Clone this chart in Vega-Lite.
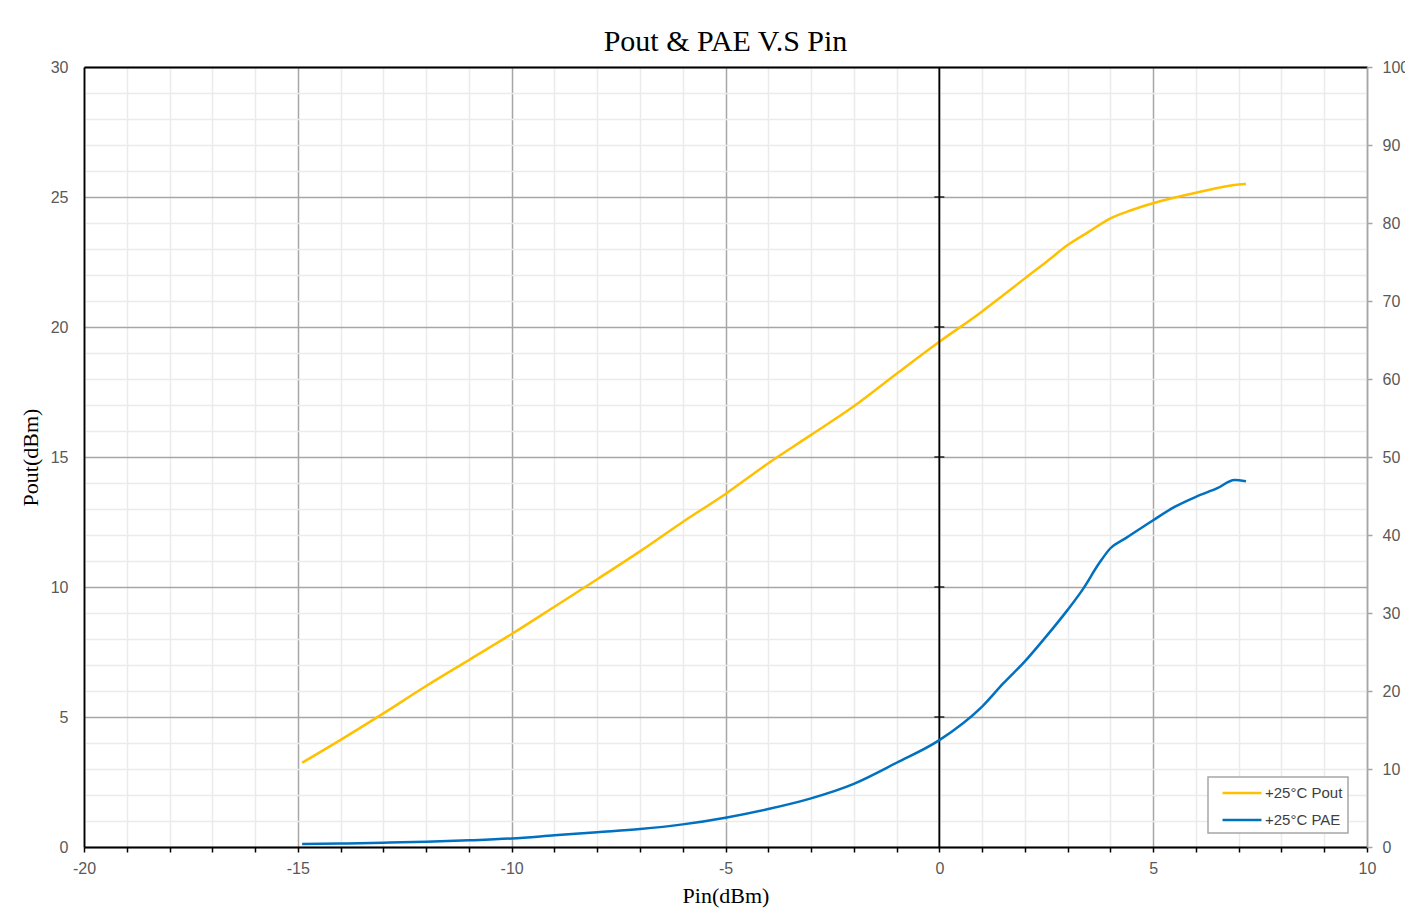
{
  "$schema": "https://vega.github.io/schema/vega-lite/v6.json",
  "width": 1283,
  "height": 780,
  "autosize": {"type": "none"},
  "padding": {"left": 84, "top": 67, "right": 38, "bottom": 66},
  "background": "white",
  "title": {
    "text": "Pout & PAE V.S Pin",
    "font": "Liberation Serif",
    "fontSize": 30,
    "fontWeight": "normal",
    "color": "#000000",
    "anchor": "middle",
    "offset": 2
  },
  "data": {
    "values": [
      {"Pin": -14.9, "value": 3.24, "series": "+25°C Pout"},
      {"Pin": -14, "value": 4.12, "series": "+25°C Pout"},
      {"Pin": -13, "value": 5.14, "series": "+25°C Pout"},
      {"Pin": -12, "value": 6.19, "series": "+25°C Pout"},
      {"Pin": -11, "value": 7.19, "series": "+25°C Pout"},
      {"Pin": -10, "value": 8.19, "series": "+25°C Pout"},
      {"Pin": -9, "value": 9.24, "series": "+25°C Pout"},
      {"Pin": -8, "value": 10.3, "series": "+25°C Pout"},
      {"Pin": -7, "value": 11.37, "series": "+25°C Pout"},
      {"Pin": -6, "value": 12.5, "series": "+25°C Pout"},
      {"Pin": -5, "value": 13.58, "series": "+25°C Pout"},
      {"Pin": -4, "value": 14.76, "series": "+25°C Pout"},
      {"Pin": -3, "value": 15.85, "series": "+25°C Pout"},
      {"Pin": -2, "value": 16.95, "series": "+25°C Pout"},
      {"Pin": -1, "value": 18.2, "series": "+25°C Pout"},
      {"Pin": 0, "value": 19.43, "series": "+25°C Pout"},
      {"Pin": 1, "value": 20.6, "series": "+25°C Pout"},
      {"Pin": 1.5, "value": 21.23, "series": "+25°C Pout"},
      {"Pin": 2, "value": 21.87, "series": "+25°C Pout"},
      {"Pin": 2.5, "value": 22.5, "series": "+25°C Pout"},
      {"Pin": 3, "value": 23.15, "series": "+25°C Pout"},
      {"Pin": 3.5, "value": 23.67, "series": "+25°C Pout"},
      {"Pin": 4, "value": 24.18, "series": "+25°C Pout"},
      {"Pin": 4.5, "value": 24.5, "series": "+25°C Pout"},
      {"Pin": 5, "value": 24.76, "series": "+25°C Pout"},
      {"Pin": 6, "value": 25.16, "series": "+25°C Pout"},
      {"Pin": 7, "value": 25.48, "series": "+25°C Pout"},
      {"Pin": 7.17, "value": 25.5, "series": "+25°C Pout"},
      {"Pin": -14.9, "value": 0.38, "series": "+25°C PAE"},
      {"Pin": -14, "value": 0.45, "series": "+25°C PAE"},
      {"Pin": -13, "value": 0.55, "series": "+25°C PAE"},
      {"Pin": -12, "value": 0.66, "series": "+25°C PAE"},
      {"Pin": -11, "value": 0.85, "series": "+25°C PAE"},
      {"Pin": -10, "value": 1.1, "series": "+25°C PAE"},
      {"Pin": -9, "value": 1.5, "series": "+25°C PAE"},
      {"Pin": -8, "value": 1.9, "series": "+25°C PAE"},
      {"Pin": -7, "value": 2.3, "series": "+25°C PAE"},
      {"Pin": -6, "value": 2.9, "series": "+25°C PAE"},
      {"Pin": -5, "value": 3.76, "series": "+25°C PAE"},
      {"Pin": -4, "value": 4.87, "series": "+25°C PAE"},
      {"Pin": -3, "value": 6.24, "series": "+25°C PAE"},
      {"Pin": -2, "value": 8.1, "series": "+25°C PAE"},
      {"Pin": -1, "value": 10.8, "series": "+25°C PAE"},
      {"Pin": 0, "value": 13.7, "series": "+25°C PAE"},
      {"Pin": 1, "value": 18.0, "series": "+25°C PAE"},
      {"Pin": 1.5, "value": 21.0, "series": "+25°C PAE"},
      {"Pin": 2, "value": 23.8, "series": "+25°C PAE"},
      {"Pin": 2.5, "value": 27.0, "series": "+25°C PAE"},
      {"Pin": 3, "value": 30.4, "series": "+25°C PAE"},
      {"Pin": 3.35, "value": 33.0, "series": "+25°C PAE"},
      {"Pin": 3.74, "value": 36.4, "series": "+25°C PAE"},
      {"Pin": 4, "value": 38.3, "series": "+25°C PAE"},
      {"Pin": 4.36, "value": 39.6, "series": "+25°C PAE"},
      {"Pin": 5, "value": 41.9, "series": "+25°C PAE"},
      {"Pin": 5.5, "value": 43.6, "series": "+25°C PAE"},
      {"Pin": 6, "value": 44.9, "series": "+25°C PAE"},
      {"Pin": 6.5, "value": 46.0, "series": "+25°C PAE"},
      {"Pin": 6.9, "value": 47.05, "series": "+25°C PAE"},
      {"Pin": 7.17, "value": 46.9, "series": "+25°C PAE"}
    ]
  },
  "layer": [
    {
      "layer": [
        {
          "transform": [{"filter": "datum.series === '+25°C Pout'"}],
          "mark": {"type": "line", "interpolate": "monotone", "strokeWidth": 2.5},
          "encoding": {
            "x": {
              "field": "Pin",
              "type": "quantitative",
              "scale": {"domain": [-20, 10], "nice": false},
              "axis": {
                "values": [-20, -19, -18, -17, -16, -15, -14, -13, -12, -11, -10, -9, -8, -7, -6, -5, -4, -3, -2, -1, 0, 1, 2, 3, 4, 5, 6, 7, 8, 9, 10],
                "labelExpr": "datum.value % 5 === 0 ? '' + datum.value : ''",
                "labelOverlap": false,
                "grid": true,
                "gridColor": {"condition": {"test": "datum.value % 5 === 0", "value": "#a6a6a6"}, "value": "#ebebeb"},
                "gridWidth": 1.5,
                "ticks": true,
                "tickColor": "#000000",
                "tickSize": 5,
                "tickWidth": 1.5,
                "domainColor": "#000000",
                "domainWidth": 1.8,
                "labelFont": "Liberation Sans",
                "labelFontSize": 16,
                "labelColor": "#595959",
                "labelPadding": 8,
                "labelFlush": false,
                "title": "Pin(dBm)",
                "titleFont": "Liberation Serif",
                "titleFontSize": 22,
                "titleFontWeight": "normal",
                "titleColor": "#000000",
                "titlePadding": 9
              }
            },
            "y": {
              "field": "value",
              "type": "quantitative",
              "scale": {"domain": [0, 30], "nice": false},
              "axis": {
                "values": [0, 1, 2, 3, 4, 5, 6, 7, 8, 9, 10, 11, 12, 13, 14, 15, 16, 17, 18, 19, 20, 21, 22, 23, 24, 25, 26, 27, 28, 29, 30],
                "labelExpr": "datum.value % 5 === 0 ? '' + datum.value : ''",
                "labelOverlap": false,
                "grid": true,
                "gridColor": {"condition": {"test": "datum.value % 5 === 0", "value": "#a6a6a6"}, "value": "#ebebeb"},
                "gridWidth": 1.5,
                "ticks": false,
                "domainColor": "#000000",
                "domainWidth": 1.8,
                "labelFont": "Liberation Sans",
                "labelFontSize": 16,
                "labelColor": "#595959",
                "labelPadding": 16,
                "labelFlush": false,
                "title": "Pout(dBm)",
                "titleFont": "Liberation Serif",
                "titleFontSize": 22,
                "titleFontWeight": "normal",
                "titleColor": "#000000",
                "titlePadding": 8
              }
            },
            "color": {
              "field": "series",
              "type": "nominal",
              "scale": {"domain": ["+25°C Pout", "+25°C PAE"], "range": ["#FFC000", "#0070C0"]},
              "legend": {
                "orient": "none",
                "legendX": 1124,
                "legendY": 710,
                "title": null,
                "direction": "vertical",
                "fillColor": "#ffffff",
                "strokeColor": "#a6a6a6",
                "padding": 5,
                "rowPadding": 8,
                "symbolType": "M-2,0H2",
                "symbolStrokeWidth": 2.5,
                "symbolSize": 380,
                "symbolOffset": 18,
                "labelFont": "Liberation Sans",
                "labelFontSize": 15,
                "labelColor": "#404040",
                "labelOffset": 12,
                "encode": {"legend": {"update": {"strokeWidth": {"value": 1.5}}}}
              }
            }
          }
        },
        {
          "data": {"values": [{"Pin": 0}]},
          "mark": {"type": "rule", "color": "#000000", "strokeWidth": 1.8},
          "encoding": {
            "x": {
              "field": "Pin",
              "type": "quantitative",
              "axis": {
                "values": [-20, -19, -18, -17, -16, -15, -14, -13, -12, -11, -10, -9, -8, -7, -6, -5, -4, -3, -2, -1, 0, 1, 2, 3, 4, 5, 6, 7, 8, 9, 10],
                "labelExpr": "datum.value % 5 === 0 ? '' + datum.value : ''",
                "labelOverlap": false,
                "grid": true,
                "gridColor": {"condition": {"test": "datum.value % 5 === 0", "value": "#a6a6a6"}, "value": "#ebebeb"},
                "gridWidth": 1.5,
                "ticks": true,
                "tickColor": "#000000",
                "tickSize": 5,
                "tickWidth": 1.5,
                "domainColor": "#000000",
                "domainWidth": 1.8,
                "labelFont": "Liberation Sans",
                "labelFontSize": 16,
                "labelColor": "#595959",
                "labelPadding": 8,
                "labelFlush": false,
                "title": "Pin(dBm)",
                "titleFont": "Liberation Serif",
                "titleFontSize": 22,
                "titleFontWeight": "normal",
                "titleColor": "#000000",
                "titlePadding": 9
              }
            }
          }
        },
        {
          "data": {"values": [{"Pin": 0, "value": 5}, {"Pin": 0, "value": 10}, {"Pin": 0, "value": 15}, {"Pin": 0, "value": 20}, {"Pin": 0, "value": 25}]},
          "mark": {"type": "tick", "orient": "horizontal", "size": 10, "thickness": 1.8, "color": "#000000"},
          "encoding": {
            "x": {
              "field": "Pin",
              "type": "quantitative",
              "axis": {
                "values": [-20, -19, -18, -17, -16, -15, -14, -13, -12, -11, -10, -9, -8, -7, -6, -5, -4, -3, -2, -1, 0, 1, 2, 3, 4, 5, 6, 7, 8, 9, 10],
                "labelExpr": "datum.value % 5 === 0 ? '' + datum.value : ''",
                "labelOverlap": false,
                "grid": true,
                "gridColor": {"condition": {"test": "datum.value % 5 === 0", "value": "#a6a6a6"}, "value": "#ebebeb"},
                "gridWidth": 1.5,
                "ticks": true,
                "tickColor": "#000000",
                "tickSize": 5,
                "tickWidth": 1.5,
                "domainColor": "#000000",
                "domainWidth": 1.8,
                "labelFont": "Liberation Sans",
                "labelFontSize": 16,
                "labelColor": "#595959",
                "labelPadding": 8,
                "labelFlush": false,
                "title": "Pin(dBm)",
                "titleFont": "Liberation Serif",
                "titleFontSize": 22,
                "titleFontWeight": "normal",
                "titleColor": "#000000",
                "titlePadding": 9
              }
            },
            "y": {
              "field": "value",
              "type": "quantitative",
              "axis": {
                "values": [0, 1, 2, 3, 4, 5, 6, 7, 8, 9, 10, 11, 12, 13, 14, 15, 16, 17, 18, 19, 20, 21, 22, 23, 24, 25, 26, 27, 28, 29, 30],
                "labelExpr": "datum.value % 5 === 0 ? '' + datum.value : ''",
                "labelOverlap": false,
                "grid": true,
                "gridColor": {"condition": {"test": "datum.value % 5 === 0", "value": "#a6a6a6"}, "value": "#ebebeb"},
                "gridWidth": 1.5,
                "ticks": false,
                "domainColor": "#000000",
                "domainWidth": 1.8,
                "labelFont": "Liberation Sans",
                "labelFontSize": 16,
                "labelColor": "#595959",
                "labelPadding": 16,
                "labelFlush": false,
                "title": "Pout(dBm)",
                "titleFont": "Liberation Serif",
                "titleFontSize": 22,
                "titleFontWeight": "normal",
                "titleColor": "#000000",
                "titlePadding": 8
              }
            }
          }
        }
      ]
    },
    {
      "transform": [{"filter": "datum.series === '+25°C PAE'"}],
      "mark": {"type": "line", "interpolate": "monotone", "strokeWidth": 2.5},
      "encoding": {
        "x": {
          "field": "Pin",
          "type": "quantitative",
          "scale": {"domain": [-20, 10], "nice": false},
          "axis": {"orient": "top", "labels": false, "ticks": false, "grid": false, "domainColor": "#000000", "domainWidth": 1.8, "title": null}
        },
        "y": {
          "field": "value",
          "type": "quantitative",
          "scale": {"domain": [0, 100], "nice": false},
          "axis": {
            "orient": "right",
            "values": [0, 10, 20, 30, 40, 50, 60, 70, 80, 90, 100],
            "grid": false,
            "ticks": true,
            "tickColor": "#a6a6a6",
            "tickSize": 5,
            "tickWidth": 1.5,
            "domainColor": "#a6a6a6",
            "domainWidth": 1.5,
            "labelFont": "Liberation Sans",
            "labelFontSize": 16,
            "labelColor": "#595959",
            "labelPadding": 10,
            "labelFlush": false,
            "title": null
          }
        },
        "color": {"field": "series", "type": "nominal"}
      }
    }
  ],
  "resolve": {"scale": {"y": "independent"}, "axis": {"x": "independent"}},
  "config": {"view": {"stroke": null}}
}
